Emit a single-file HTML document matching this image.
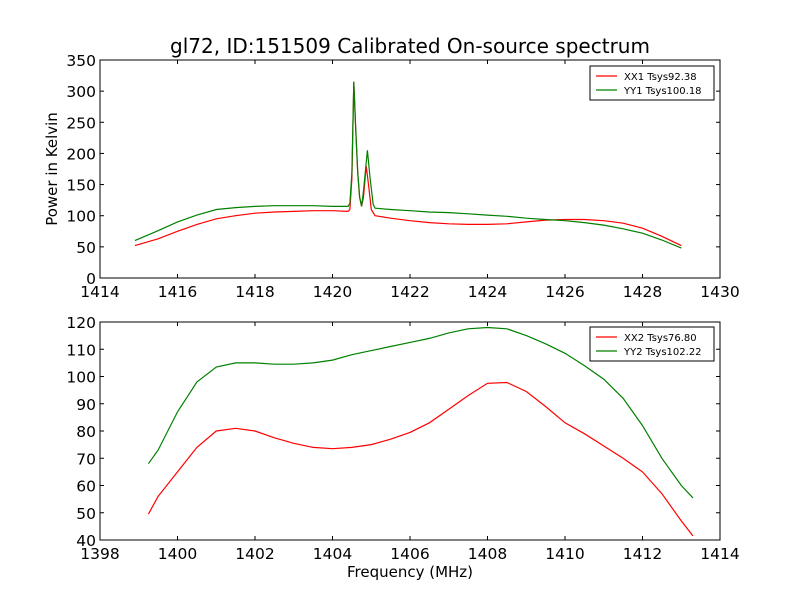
<!DOCTYPE html>
<html><head><meta charset="utf-8"><style>
body{margin:0;background:#fff;}
svg{display:block;font-family:"DejaVu Sans","Liberation Sans",sans-serif;}
</style></head><body>
<svg id="c" width="800" height="600" xmlns="http://www.w3.org/2000/svg">
<rect width="800" height="600" fill="#fff"/>
<text x="410" y="53" font-size="20" text-anchor="middle">gl72, ID:151509 Calibrated On-source spectrum</text>
<text x="410" y="577" font-size="15" text-anchor="middle">Frequency (MHz)</text>
<text transform="translate(57,169) rotate(-90)" font-size="15" text-anchor="middle">Power in Kelvin</text>
</svg>
<script>
const topFreqXX1=[1414.9,1415.5,1416,1416.5,1417,1417.5,1418,1418.5,1419,1419.5,1420,1420.4,1420.45,1420.5,1420.55,1420.6,1420.65,1420.7,1420.75,1420.8,1420.87,1420.93,1421,1421.1,1421.5,1422,1422.5,1423,1423.5,1424,1424.5,1425,1425.5,1426,1426.5,1427,1427.5,1428,1428.5,1429];
const topValXX1=[52,63,75,86,95,100,104,106,107,108,108,107,110,160,315,240,170,130,115,130,180,150,110,100,96,92,89,87,86,86,87,90,93,94,94,92,88,80,67,52];
const topFreqYY1=[1414.9,1415.5,1416,1416.5,1417,1417.5,1418,1418.5,1419,1419.5,1420,1420.4,1420.45,1420.5,1420.55,1420.6,1420.65,1420.7,1420.75,1420.8,1420.9,1420.97,1421.05,1421.1,1421.5,1422,1422.5,1423,1423.5,1424,1424.5,1425,1425.5,1426,1426.5,1427,1427.5,1428,1428.5,1429];
const topValYY1=[60,76,90,101,110,113,115,116,116,116,115,115,120,170,315,240,170,130,115,140,205,160,118,112,110,108,106,105,103,101,99,96,94,92,89,85,79,72,61,48];
const botFreq=[1399.25,1399.5,1400,1400.5,1401,1401.5,1402,1402.5,1403,1403.5,1404,1404.5,1405,1405.5,1406,1406.5,1407,1407.5,1408,1408.5,1409,1409.5,1410,1410.5,1411,1411.5,1412,1412.5,1413,1413.3];
const botValXX2=[49.5,56,65,74,80,81,80,77.5,75.5,74,73.5,74,75,77,79.5,83,88,93,97.5,97.8,94.5,89,83,79,74.5,70,65,57,47,41.5];
const botValYY2=[68,73,87,98,103.5,105,105,104.5,104.5,105,106,108,109.5,111,112.5,114,116,117.5,118,117.5,115,112,108.5,104,99,92,82,70,60,55.5];
const topXTicks=[1414,1416,1418,1420,1422,1424,1426,1428,1430];
const topYTicks=[0,50,100,150,200,250,300,350];
const botXTicks=[1398,1400,1402,1404,1406,1408,1410,1412,1414];
const botYTicks=[40,50,60,70,80,90,100,110,120];
const legendTop=["XX1 Tsys92.38","YY1 Tsys100.18"];
const legendBot=["XX2 Tsys76.80","YY2 Tsys102.22"];

const svg=document.getElementById('c');
const NS="http://www.w3.org/2000/svg";
function mk(t,a){const e=document.createElementNS(NS,t);for(const k in a)e.setAttribute(k,a[k]);svg.appendChild(e);return e;}

function panel(name,y0,y1,xmin,xmax,ymin,ymax,xt,yt,series,legend){
  const L=100,R=720;
  const sx=v=>L+(v-xmin)/(xmax-xmin)*(R-L);
  const sy=v=>y1-(v-ymin)/(ymax-ymin)*(y1-y0);
  series.forEach((s,i)=>{
    const p=mk('polyline',{points:s.x.map((f,j)=>sx(f).toFixed(1)+','+sy(s.y[j]).toFixed(1)).join(' '),fill:'none',stroke:s.c,'stroke-width':1.2});
    
    
  });
  const f=mk('rect',{x:L,y:y0,width:R-L,height:y1-y0,fill:'none',stroke:'#000','stroke-width':1});
  
  
  xt.forEach(v=>{const x=sx(v);
    mk('line',{x1:x,x2:x,y1:y1,y2:y1-4,stroke:'#000'});mk('line',{x1:x,x2:x,y1:y0,y2:y0+4,stroke:'#000'});
    const t=mk('text',{x:x,y:y1+19,'font-size':15.5,'text-anchor':'middle'});t.textContent=v;
    
    });
  yt.forEach(v=>{const y=sy(v);
    mk('line',{x1:L,x2:L+4,y1:y,y2:y,stroke:'#000'});mk('line',{x1:R,x2:R-4,y1:y,y2:y,stroke:'#000'});
    const t=mk('text',{x:L-4,y:y+6,'font-size':15.5,'text-anchor':'end'});t.textContent=v;
    
    });
  const lx=legend.x,ly=legend.y;
  const lb=mk('rect',{x:lx,y:ly,width:124,height:34,fill:'#fff',stroke:'#000'});
  
  
  legend.labels.forEach((lab,i)=>{const yy=ly+10+i*14;
    mk('line',{x1:lx+6,x2:lx+27,y1:yy,y2:yy,stroke:series[i].c,'stroke-width':1.2});
    const t=mk('text',{x:lx+34,y:yy+4,'font-size':10});t.textContent=lab;
    
    });
}
panel('top-panel',60,278,1414,1430,0,350,topXTicks,topYTicks,
  [{x:topFreqXX1,y:topValXX1,c:'#ff0000',n:'xx1'},{x:topFreqYY1,y:topValYY1,c:'#008000',n:'yy1'}],
  {x:590,y:66,labels:legendTop});
panel('bottom-panel',322,540,1398,1414,40,120,botXTicks,botYTicks,
  [{x:botFreq,y:botValXX2,c:'#ff0000',n:'xx2'},{x:botFreq,y:botValYY2,c:'#008000',n:'yy2'}],
  {x:590,y:327,labels:legendBot});
</script>
</body></html>
